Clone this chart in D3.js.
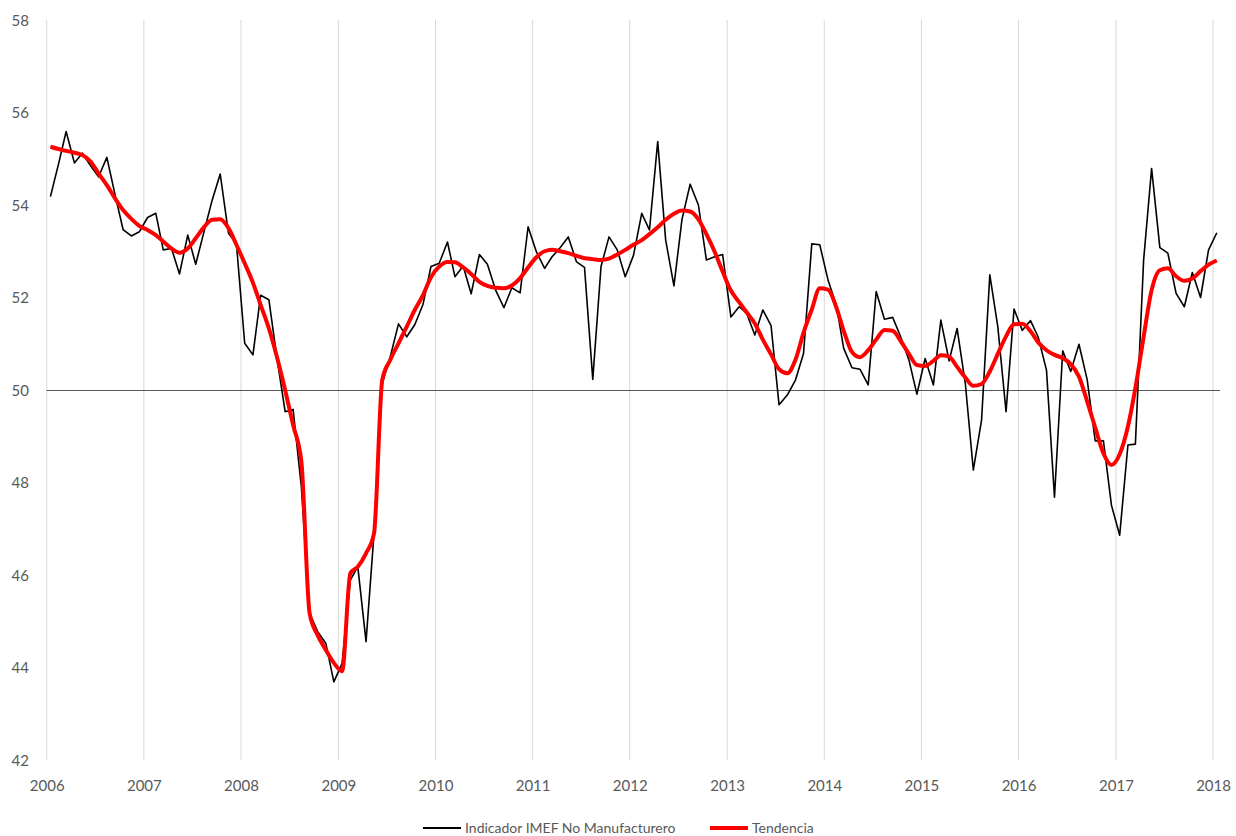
<!DOCTYPE html>
<html>
<head>
<meta charset="utf-8">
<script src="https://cdn.jsdelivr.net/npm/d3@7"></script>
<style>
  body { margin: 0; background: #fff; }
  svg text { font-family: Lato, "Open Sans", sans-serif; fill: #595959; }
</style>
</head>
<body>
<svg id="chart" width="1236" height="836"></svg>
<script>
// Data: monthly, Jan 2006 .. Jan 2018
let startYear = 2006
let imef = [
  54.18, 54.9, 55.59, 54.91, 55.12, 54.85, 54.61, 55.03, 54.22, 53.47, 53.33, 53.42,
  53.73, 53.82, 53.03, 53.06, 52.51, 53.35, 52.72, 53.42, 54.11, 54.67, 53.39, 53.16,
  51.01, 50.76, 52.05, 51.95, 50.7, 49.53, 49.58, 47.9, 45.17, 44.78, 44.52, 43.69,
  44.09, 45.89, 46.18, 44.56, 46.9, 50.14, 50.72, 51.43, 51.15, 51.41, 51.85, 52.67,
  52.74, 53.2, 52.45, 52.68, 52.08, 52.93, 52.72, 52.16, 51.78, 52.21, 52.1, 53.53,
  52.99, 52.63, 52.88, 53.08, 53.31, 52.77, 52.65, 50.23, 52.67, 53.31, 53.03, 52.45,
  52.91, 53.82, 53.46, 55.37, 53.24, 52.25, 53.68, 54.45, 54.0, 52.81, 52.88, 52.93,
  51.58, 51.8, 51.66, 51.19, 51.73, 51.39, 49.68, 49.89, 50.22, 50.79, 53.16, 53.14,
  52.38, 51.84, 50.9, 50.48, 50.45, 50.11, 52.13, 51.53, 51.57, 51.15, 50.65, 49.91,
  50.68, 50.11, 51.51, 50.63, 51.33, 50.14, 48.27, 49.35, 52.49, 51.37, 49.53, 51.75,
  51.29, 51.5, 51.14, 50.43, 47.68, 50.85, 50.4, 50.99, 50.22, 48.9, 48.9, 47.51,
  46.86, 48.81, 48.83, 52.81, 54.79, 53.08, 52.96, 52.09, 51.8, 52.54, 52.0, 53.03,
  53.4
]
let tendencia = [
  55.26, 55.21, 55.17, 55.13, 55.08, 54.94, 54.68, 54.43, 54.14, 53.89, 53.7, 53.55,
  53.46, 53.35, 53.21, 53.06, 52.97, 53.06, 53.28, 53.52, 53.68, 53.69, 53.5, 53.14,
  52.74, 52.32, 51.84, 51.33, 50.72, 50.0, 49.24, 48.45, 45.17, 44.7, 44.38, 44.1,
  43.92, 46.04, 46.18, 46.47, 46.9, 50.22, 50.65, 51.01, 51.37, 51.73, 52.05, 52.44,
  52.67, 52.77, 52.76, 52.65, 52.51, 52.34, 52.25, 52.21, 52.2, 52.26, 52.42, 52.65,
  52.87, 53.0, 53.03, 53.0, 52.96, 52.9, 52.85, 52.83, 52.81, 52.84, 52.93, 53.03,
  53.14, 53.24, 53.37, 53.52, 53.68, 53.81, 53.88, 53.86, 53.69, 53.37, 52.99, 52.56,
  52.15, 51.9, 51.68, 51.44, 51.09, 50.77, 50.45, 50.36, 50.66, 51.24, 51.74, 52.2,
  52.17, 51.79, 51.28, 50.82, 50.71, 50.86, 51.09, 51.3, 51.28, 51.06, 50.78, 50.54,
  50.52, 50.63, 50.75, 50.72, 50.5, 50.27, 50.09, 50.13, 50.4, 50.78, 51.16, 51.42,
  51.43, 51.27, 51.03, 50.86, 50.76, 50.69, 50.56, 50.29, 49.75, 49.19, 48.63, 48.38,
  48.61, 49.21, 50.04, 51.15, 52.16, 52.59, 52.63, 52.46, 52.36, 52.41, 52.57, 52.71,
  52.8
]
let yTicks = [42, 44, 46, 48, 50, 52, 54, 56, 58]
let yearTicks = d3.range(2006, 2019)
let seriesNames = ["Indicador IMEF No Manufacturero", "Tendencia"]

// Helpers
let monthDate = i => new Date(startYear, i, 15)

let x = d3.scaleTime()
  .domain([new Date(2006, 0, 1), new Date(2018, 0, 27)])
  .range([46.7, 1220])
let y = d3.scaleLinear().domain([42, 58]).range([760, 20])

let svg = d3.select("#chart")

// vertical gridlines at each year
svg.append("g")
  .selectAll("line")
  .data(yearTicks)
  .join("line")
  .attr("x1", d => x(new Date(d, 0, 1)))
  .attr("x2", d => x(new Date(d, 0, 1)))
  .attr("y1", y(58))
  .attr("y2", y(42))
  .attr("stroke", "#d9d9d9")
  .attr("stroke-width", 1)

// reference line at 50
svg.append("line")
  .attr("x1", x.range()[0])
  .attr("x2", x.range()[1])
  .attr("y1", Math.round(y(50)) + 0.5)
  .attr("y2", Math.round(y(50)) + 0.5)
  .attr("stroke", "#595959")
  .attr("stroke-width", 1)

// y axis labels
let yAxis = d3.axisLeft(y).tickValues(yTicks).tickSize(0).tickPadding(0)
let gy = svg.append("g").attr("transform", "translate(29,0)").call(yAxis)
gy.select(".domain").remove()
gy.selectAll("text").style("font-size", "15px").attr("dy", "0.34em")

// x axis labels
let xAxis = d3.axisBottom(x)
  .tickValues(yearTicks.map(d => new Date(d, 0, 1)))
  .tickFormat(d3.timeFormat("%Y"))
  .tickSize(0)
  .tickPadding(0)
let gx = svg.append("g").attr("transform", "translate(0,780)").call(xAxis)
gx.select(".domain").remove()
gx.selectAll("text").style("font-size", "15px")

// lines
let lineFn = d3.line()
  .x((d, i) => x(monthDate(i)))
  .y(d => y(d))

svg.append("path")
  .attr("d", lineFn(imef))
  .attr("fill", "none")
  .attr("stroke", "#000000")
  .attr("stroke-width", 1.6)
  .attr("stroke-linejoin", "round")

svg.append("path")
  .attr("d", lineFn.curve(d3.curveMonotoneX)(tendencia))
  .attr("fill", "none")
  .attr("stroke", "#ff0000")
  .attr("stroke-width", 4)
  .attr("stroke-linejoin", "round")

// legend
let legend = svg.append("g").attr("transform", "translate(0,828)")
let legendItems = [
  {name: seriesNames[0], color: "#000000", width: 2, x: 423},
  {name: seriesNames[1], color: "#ff0000", width: 4, x: 710}
]
legendItems.forEach(item => {
  legend.append("line")
    .attr("x1", item.x).attr("x2", item.x + 38)
    .attr("y1", 0).attr("y2", 0)
    .attr("stroke", item.color)
    .attr("stroke-width", item.width)
  legend.append("text")
    .attr("x", item.x + 42)
    .attr("y", 0)
    .attr("dy", "0.35em")
    .style("font-size", "14px")
    .text(item.name)
})
</script>
</body>
</html>
